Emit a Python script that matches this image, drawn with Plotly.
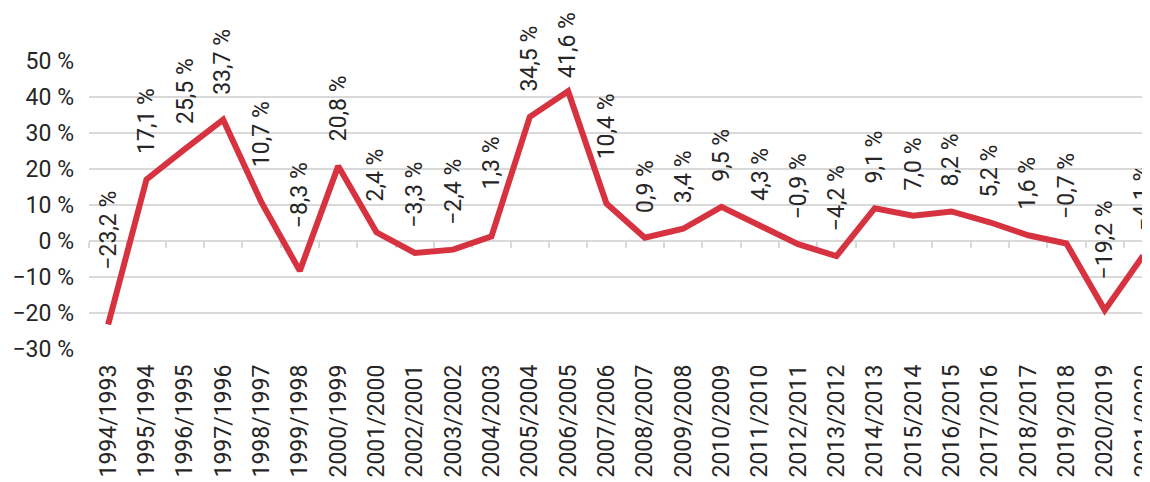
import plotly.graph_objects as go

categories = [
    "1994/1993", "1995/1994", "1996/1995", "1997/1996", "1998/1997", "1999/1998",
    "2000/1999", "2001/2000", "2002/2001", "2003/2002", "2004/2003", "2005/2004",
    "2006/2005", "2007/2006", "2008/2007", "2009/2008", "2010/2009", "2011/2010",
    "2012/2011", "2013/2012", "2014/2013", "2015/2014", "2016/2015", "2017/2016",
    "2018/2017", "2019/2018", "2020/2019", "2021/2020",
]
values = [
    -23.2, 17.1, 25.5, 33.7, 10.7, -8.3, 20.8, 2.4, -3.3, -2.4, 1.3, 34.5,
    41.6, 10.4, 0.9, 3.4, 9.5, 4.3, -0.9, -4.2, 9.1, 7.0, 8.2, 5.2, 1.6,
    -0.7, -19.2, -4.1,
]
y_tick_values = [-30, -20, -10, 0, 10, 20, 30, 40, 50]
y_tick_labels = ["−30 %", "−20 %", "−10 %", "0 %", "10 %", "20 %", "30 %", "40 %", "50 %"]

# ---- layout constants (page body adds an 8px offset, compensated here) ----
PAGE_OFFSET = 8
W, H = 1150, 482
ML, MR, MT = 89 - PAGE_OFFSET, 0, 61 - PAGE_OFFSET
PLOT_H = 288
MB = H - MT - PLOT_H
Y_MIN, Y_MAX = -30, 50
PLOT_W = W - ML - MR
CAT_PX = 38.33
X_RANGE = [-0.5, -0.5 + PLOT_W / CAT_PX]
PX_PER_PCT = PLOT_H / (Y_MAX - Y_MIN)

FONT = "Roboto, Arial, sans-serif"
TEXT_COLOR = "#262626"
LINE_COLOR = "#d7323f"
GRID_COLOR = "#d9d9d9"
LABEL_SIZE = 23


def fmt(v):
    s = f"{abs(v):.1f}".replace(".", ",")
    return ("−" if v < 0 else "") + s + " %"


CHAR_W = {",": 0.197, " ": 0.248, "%": 0.733, "−": 0.56}


def text_len(s):
    return sum(CHAR_W.get(c, 0.5615) for c in s) * LABEL_SIZE


fig = go.Figure()
fig.add_trace(go.Scatter(
    x=categories, y=values, mode="lines",
    line=dict(color=LINE_COLOR, width=6),
    hoverinfo="skip", showlegend=False,
))
# invisible trace to carry the zero-line tick axis
fig.add_trace(go.Scatter(
    x=list(range(len(values))), y=values, mode="lines", xaxis="x2",
    line=dict(width=0), opacity=0, hoverinfo="skip", showlegend=False,
))

BASE_GAP = 24
HW = 0.3
CLEAR = 10
TOP_LIMIT = 13 - PAGE_OFFSET
for i, v in enumerate(values):
    need = BASE_GAP
    for j in (i - 1, i + 1):
        if 0 <= j < len(values):
            rise = HW * (values[j] - v) * PX_PER_PCT
            need = max(need, rise + CLEAR)
    label = fmt(v)
    pt_y = MT + (Y_MAX - v) * PX_PER_PCT
    if pt_y - need - text_len(label) < TOP_LIMIT:
        need = pt_y - TOP_LIMIT - text_len(label)
    fig.add_annotation(
        x=categories[i], y=v, text=label, showarrow=False,
        textangle=-90, xanchor="center", yanchor="bottom", yshift=need,
        font=dict(family=FONT, size=LABEL_SIZE, color=TEXT_COLOR),
        borderpad=0,
    )

fig.update_layout(
    width=W, height=H,
    margin=dict(l=ML, r=MR, t=MT, b=MB, pad=0, autoexpand=False),
    paper_bgcolor="white", plot_bgcolor="white",
    font=dict(family=FONT, size=LABEL_SIZE, color=TEXT_COLOR),
    showlegend=False,
    xaxis=dict(
        type="category", range=X_RANGE, showgrid=False, showline=False,
        zeroline=False, ticks="", tickangle=-90, ticklabelstandoff=10,
        automargin=False,
        tickfont=dict(family=FONT, size=LABEL_SIZE, color=TEXT_COLOR),
    ),
    xaxis2=dict(
        overlaying="x", anchor="free", position=(0 - Y_MIN) / (Y_MAX - Y_MIN),
        side="bottom", range=X_RANGE, showgrid=False, showline=False,
        zeroline=False, showticklabels=False, ticks="outside", ticklen=6,
        tickwidth=1.5, tickcolor=GRID_COLOR, layer="below traces",
        tickmode="array", tickvals=[k - 0.5 for k in range(len(values) + 1)],
    ),
    yaxis=dict(
        range=[Y_MIN, Y_MAX], tickmode="array", tickvals=y_tick_values,
        ticktext=y_tick_labels, showgrid=True, gridcolor=GRID_COLOR,
        gridwidth=1.5, zeroline=False, showline=False, ticks="",
        ticklabelstandoff=14, automargin=False,
        tickfont=dict(family=FONT, size=LABEL_SIZE, color=TEXT_COLOR),
    ),
)

fig.write_html("out.html")
